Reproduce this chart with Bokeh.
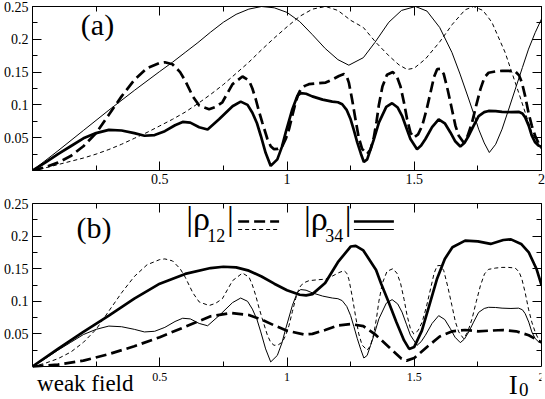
from bokeh.plotting import figure
from bokeh.layouts import column
from bokeh.models import FixedTicker, LinearAxis, Label, Range1d
from bokeh.embed import file_html
from bokeh.resources import INLINE

# ---------------- data ----------------
x_ticks = [0.5, 1.0, 1.5, 2.0]
x_tick_labels = ["0.5", "1", "1.5", "2"]
x_minor = [0.25, 0.75, 1.25, 1.75]
y_ticks = [0.05, 0.1, 0.15, 0.2, 0.25]
y_tick_labels = ["0.05", "0.1", "0.15", "0.2", "0.25"]
y_minor = [0.025, 0.075, 0.125, 0.175, 0.225]

# panel (a) thin solid
a_thin_solid_x = [0, 0.1, 0.2, 0.3, 0.4, 0.5, 0.55, 0.6, 0.65, 0.7, 0.75, 0.8, 0.85, 0.9, 0.95, 1.0,
                  1.05, 1.1, 1.15, 1.2, 1.243, 1.3, 1.345, 1.4, 1.45, 1.505, 1.55, 1.6, 1.648, 1.68,
                  1.714, 1.735, 1.753, 1.775, 1.795, 1.82, 1.845, 1.87, 1.897, 1.925, 1.949, 1.975, 2.0]
a_thin_solid_y = [0, 0.030, 0.061, 0.092, 0.122, 0.151, 0.165, 0.180, 0.195, 0.211, 0.226, 0.238, 0.246,
                  0.25, 0.248, 0.241, 0.227, 0.207, 0.186, 0.169, 0.1605, 0.172, 0.195, 0.226, 0.244,
                  0.25, 0.243, 0.218, 0.180, 0.147, 0.109, 0.085, 0.063, 0.042, 0.0274, 0.04, 0.063,
                  0.092, 0.124, 0.157, 0.185, 0.21, 0.231]

# panel (a) thin dashed
a_thin_dash_x = [0, 0.05, 0.1, 0.15, 0.2, 0.25, 0.3, 0.35, 0.4, 0.45, 0.5, 0.55, 0.6, 0.65, 0.7, 0.75,
                 0.8, 0.85, 0.9, 0.95, 1.0, 1.05, 1.1, 1.152, 1.2, 1.25, 1.3, 1.35, 1.4, 1.44, 1.472,
                 1.5, 1.544, 1.6, 1.65, 1.7, 1.733, 1.77, 1.805, 1.857, 1.91, 1.962, 2.0]
a_thin_dash_y = [0, 0.004, 0.009, 0.014, 0.019, 0.025, 0.032, 0.040, 0.049, 0.058, 0.068, 0.078, 0.089,
                 0.102, 0.116, 0.131, 0.148, 0.165, 0.184, 0.202, 0.219, 0.235, 0.246, 0.25, 0.244,
                 0.229, 0.218, 0.195, 0.175, 0.161, 0.154, 0.156, 0.170, 0.196, 0.223, 0.245, 0.25,
                 0.244, 0.226, 0.18, 0.119, 0.058, 0.032]

# |rho12| strong field (thick dashed in (a), thin dashed in (b))
rho12_strong_x = [0, 0.05, 0.1, 0.15, 0.2, 0.25, 0.3, 0.35, 0.4, 0.45, 0.5, 0.52, 0.55, 0.58, 0.6, 0.63,
                  0.655, 0.694, 0.72, 0.746, 0.786, 0.825, 0.851, 0.864, 0.877, 0.89, 0.903, 0.923, 0.936,
                  0.949, 0.965, 0.982, 0.995, 1.008, 1.021, 1.034, 1.045, 1.054, 1.07, 1.086, 1.12, 1.152,
                  1.18, 1.204, 1.224, 1.235, 1.243, 1.256, 1.269, 1.282, 1.295, 1.315, 1.328, 1.341,
                  1.352, 1.361, 1.375, 1.393, 1.416, 1.432, 1.446, 1.46, 1.472, 1.485, 1.498, 1.515,
                  1.531, 1.548, 1.564, 1.578, 1.59, 1.603, 1.616, 1.632, 1.648, 1.662, 1.675, 1.694,
                  1.71, 1.727, 1.744, 1.76, 1.776, 1.792, 1.82, 1.845, 1.87, 1.897, 1.912, 1.923, 1.936,
                  1.949, 1.962, 1.975, 1.988, 2.0]
rho12_strong_y = [0, 0.005, 0.012, 0.022, 0.037, 0.057, 0.085, 0.113, 0.138, 0.156, 0.164, 0.165, 0.162,
                  0.15, 0.137, 0.113, 0.099, 0.0935, 0.097, 0.104, 0.1316, 0.1433, 0.137, 0.125, 0.109,
                  0.09, 0.073, 0.048, 0.037, 0.0325, 0.033, 0.0376, 0.048, 0.063, 0.084, 0.104, 0.117,
                  0.124, 0.129, 0.1316, 0.133, 0.134, 0.139, 0.144, 0.147, 0.143, 0.134, 0.108, 0.078,
                  0.05, 0.033, 0.025, 0.032, 0.05, 0.075, 0.1, 0.128, 0.146, 0.150, 0.143, 0.128, 0.103,
                  0.078, 0.058, 0.050, 0.055, 0.068, 0.092, 0.119, 0.143, 0.1545, 0.155, 0.147, 0.122,
                  0.0935, 0.068, 0.053, 0.0427, 0.053, 0.073, 0.1, 0.124, 0.142, 0.149, 0.151, 0.152,
                  0.152, 0.151, 0.145, 0.134, 0.113, 0.088, 0.068, 0.053, 0.042, 0.036]

# |rho34| strong field (thick solid in (a), thin solid in (b))
rho34_strong_x = [0, 0.05, 0.1, 0.15, 0.2, 0.25, 0.3, 0.35, 0.4, 0.44, 0.48, 0.52, 0.56, 0.59, 0.62,
                  0.655, 0.688, 0.733, 0.786, 0.818, 0.845, 0.864, 0.882, 0.897, 0.916, 0.936, 0.962,
                  0.98, 0.995, 1.021, 1.041, 1.054, 1.075, 1.099, 1.14, 1.178, 1.2, 1.217, 1.235, 1.25,
                  1.263, 1.276, 1.29, 1.302, 1.315, 1.328, 1.341, 1.361, 1.39, 1.413, 1.435, 1.452,
                  1.47, 1.485, 1.511, 1.527, 1.544, 1.57, 1.596, 1.62, 1.642, 1.66, 1.681, 1.697,
                  1.714, 1.733, 1.753, 1.775, 1.792, 1.82, 1.845, 1.88, 1.91, 1.925, 1.936, 1.95,
                  1.962, 1.975, 1.988, 2.0]
rho34_strong_y = [0, 0.012, 0.025, 0.037, 0.049, 0.057, 0.062, 0.061, 0.057, 0.053, 0.054, 0.060,
                  0.069, 0.074, 0.073, 0.066, 0.0625, 0.078, 0.098, 0.105, 0.1, 0.088, 0.072, 0.053,
                  0.027, 0.007, 0.017, 0.036, 0.058, 0.0935, 0.114, 0.118, 0.117, 0.113, 0.108, 0.105,
                  0.104, 0.101, 0.092, 0.078, 0.061, 0.043, 0.026, 0.013, 0.017, 0.032, 0.047, 0.073,
                  0.097, 0.1026, 0.096, 0.0834, 0.064, 0.048, 0.0325, 0.038, 0.048, 0.066, 0.078,
                  0.072, 0.058, 0.045, 0.0366, 0.042, 0.053, 0.068, 0.083, 0.089, 0.0908, 0.0905,
                  0.0895, 0.089, 0.0895, 0.087, 0.081, 0.068, 0.053, 0.043, 0.038, 0.036]

# |rho34| weak field (thick solid in (b))
rho34_weak_x = [0, 0.1, 0.2, 0.3, 0.4, 0.5, 0.6, 0.7, 0.75, 0.8, 0.85, 0.9, 0.95, 1.0, 1.05, 1.075,
                1.1, 1.15, 1.2, 1.25, 1.27, 1.3, 1.35, 1.37, 1.4, 1.43, 1.46, 1.48, 1.5, 1.53, 1.56,
                1.59, 1.62, 1.65, 1.7, 1.75, 1.8, 1.85, 1.88, 1.92, 1.95, 1.98, 2.0]
rho34_weak_y = [0, 0.027, 0.053, 0.078, 0.104, 0.127, 0.142, 0.151, 0.153, 0.152, 0.147, 0.138, 0.127,
                0.117, 0.110, 0.109, 0.111, 0.128, 0.160, 0.184, 0.185, 0.178, 0.148, 0.127, 0.098,
                0.068, 0.040, 0.027, 0.030, 0.055, 0.095, 0.135, 0.165, 0.183, 0.193, 0.192, 0.188,
                0.194, 0.195, 0.188, 0.175, 0.150, 0.125]

# |rho12| weak field (thick dashed in (b))
rho12_weak_x = [0, 0.1, 0.2, 0.3, 0.4, 0.5, 0.6, 0.7, 0.78, 0.85, 0.9, 0.95, 1.0, 1.067, 1.1, 1.15,
                1.2, 1.25, 1.3, 1.35, 1.4, 1.45, 1.47, 1.5, 1.55, 1.6, 1.65, 1.7, 1.75, 1.8, 1.85,
                1.9, 1.95, 2.0]
rho12_weak_y = [0, 0.003, 0.009, 0.019, 0.031, 0.045, 0.061, 0.077, 0.082, 0.079, 0.072, 0.063, 0.055,
                0.049, 0.050, 0.056, 0.063, 0.065, 0.062, 0.048, 0.030, 0.012, 0.009, 0.013, 0.030,
                0.046, 0.054, 0.056, 0.054, 0.055, 0.056, 0.054, 0.048, 0.037]

# ---------------- styling ----------------
SERIF = "Liberation Serif"
THICK = 2.7
THIN = 1.0
THICK_DASH = "11 5"
THIN_DASH = "4 3"
Y_TOP = 0.25
PANEL_PX = 163          # pixel height of the 0..0.25 band in each panel
BASELINE_FIX = 0.32     # renderer draws labels ~0.32 em below the requested baseline


def style_axis(ax, ticker, labels, size, standoff, show, bounds=None):
    ax.ticker = ticker
    ax.major_label_overrides = labels
    ax.axis_line_color = "black"
    ax.major_tick_line_color = "black"
    ax.minor_tick_line_color = "black"
    ax.major_tick_in = 9
    ax.major_tick_out = 0
    ax.minor_tick_in = 5
    ax.minor_tick_out = 0
    ax.major_label_text_font = SERIF
    if show:
        ax.major_label_text_color = "black"
        ax.major_label_text_font_size = size
        ax.major_label_standoff = standoff
    else:
        ax.major_label_text_color = None
        ax.major_label_text_font_size = "1px"
        ax.major_label_standoff = 0
    if bounds is not None:
        ax.bounds = bounds


xl = {v: s for v, s in zip(x_ticks, x_tick_labels)}
yl = {v: s for v, s in zip(y_ticks, y_tick_labels)}


def lbl(p, x, y, text, size_px):
    dy = BASELINE_FIX * size_px * Y_TOP / PANEL_PX
    p.add_layout(Label(x=x, y=y + dy, text=text, text_font=SERIF, text_font_size=f"{size_px}px",
                       text_baseline="alphabetic", text_align="left", text_color="black"))


# ---------------- panel (a) ----------------
p1 = figure(width=545, height=190, x_range=Range1d(0, 2), y_range=Range1d(0, Y_TOP),
            output_backend="svg", toolbar_location=None,
            min_border_left=31, min_border_right=4, min_border_top=6, min_border_bottom=20)
p1.grid.visible = False
p1.outline_line_color = "black"
p1.border_fill_color = "white"
style_axis(p1.xaxis[0], FixedTicker(ticks=x_ticks, minor_ticks=x_minor), xl, "14px", 3, True)
style_axis(p1.yaxis[0], FixedTicker(ticks=y_ticks, minor_ticks=y_minor), yl, "14px", 4, True)
t1 = LinearAxis()
r1 = LinearAxis()
style_axis(t1, FixedTicker(ticks=x_ticks, minor_ticks=x_minor), xl, "1px", 0, False)
style_axis(r1, FixedTicker(ticks=y_ticks, minor_ticks=y_minor), yl, "1px", 0, False)
p1.add_layout(t1, "above")
p1.add_layout(r1, "right")

p1.line(a_thin_solid_x, a_thin_solid_y, line_color="black", line_width=THIN)
p1.line(a_thin_dash_x, a_thin_dash_y, line_color="black", line_width=THIN, line_dash=THIN_DASH)
p1.line(rho12_strong_x, rho12_strong_y, line_color="black", line_width=THICK, line_dash=THICK_DASH)
p1.line(rho34_strong_x, rho34_strong_y, line_color="black", line_width=THICK)
lbl(p1, 0.19, 0.208, "(a)", 30)

# ---------------- panel (b) ----------------
# frame extends below y=0 so that the texts under the axis are not clipped
P2_H, P2_TOP = 209, 13
y2_min = Y_TOP - Y_TOP * (P2_H - P2_TOP) / PANEL_PX
p2 = figure(width=545, height=P2_H, x_range=Range1d(0, 2), y_range=Range1d(y2_min, Y_TOP),
            output_backend="svg", toolbar_location=None,
            min_border_left=31, min_border_right=4, min_border_top=P2_TOP, min_border_bottom=0)
p2.grid.visible = False
p2.outline_line_color = None
p2.border_fill_color = "white"
p2.xaxis[0].fixed_location = 0
style_axis(p2.xaxis[0], FixedTicker(ticks=x_ticks, minor_ticks=x_minor), xl, "12px", 6, True)
style_axis(p2.yaxis[0], FixedTicker(ticks=y_ticks, minor_ticks=y_minor), yl, "14px", 4, True,
           bounds=(0, Y_TOP))
t2 = LinearAxis()
r2 = LinearAxis()
style_axis(t2, FixedTicker(ticks=x_ticks, minor_ticks=x_minor), xl, "1px", 0, False)
style_axis(r2, FixedTicker(ticks=y_ticks, minor_ticks=y_minor), yl, "1px", 0, False,
           bounds=(0, Y_TOP))
p2.add_layout(t2, "above")
p2.add_layout(r2, "right")

p2.line(rho12_strong_x, rho12_strong_y, line_color="black", line_width=THIN, line_dash=THIN_DASH)
p2.line(rho34_strong_x, rho34_strong_y, line_color="black", line_width=THIN)
p2.line(rho12_weak_x, rho12_weak_y, line_color="black", line_width=THICK, line_dash=THICK_DASH)
p2.line(rho34_weak_x, rho34_weak_y, line_color="black", line_width=THICK)

lbl(p2, 0.173, 0.198, "(b)", 30)


def legend_entry(x0, sub, x_lines, dash_thick, dash_thin):
    lbl(p2, x0, 0.211, "|ρ", 34)
    lbl(p2, x0 + 0.083, 0.1917, sub, 18)
    lbl(p2, x0 + 0.160, 0.211, "|", 34)
    kw_thick = dict(line_color="black", line_width=THICK)
    kw_thin = dict(line_color="black", line_width=THIN)
    if dash_thick:
        kw_thick["line_dash"] = dash_thick
    if dash_thin:
        kw_thin["line_dash"] = dash_thin
    p2.line(x_lines, [0.2224, 0.2224], **kw_thick)
    p2.line(x_lines, [0.2101, 0.2101], **kw_thin)


legend_entry(0.604, "12", [0.808, 0.969], THICK_DASH, THIN_DASH)
legend_entry(1.067, "34", [1.263, 1.420], None, None)

lbl(p2, 0.018, -0.0368, "weak field", 23)
lbl(p2, 1.871, -0.0414, "I", 27)
lbl(p2, 1.912, -0.0445, "0", 19)

layout = column(p1, p2, spacing=0,
                styles={"position": "absolute", "top": "0px", "left": "0px"})

open("out.html", "w").write(file_html(layout, INLINE))
